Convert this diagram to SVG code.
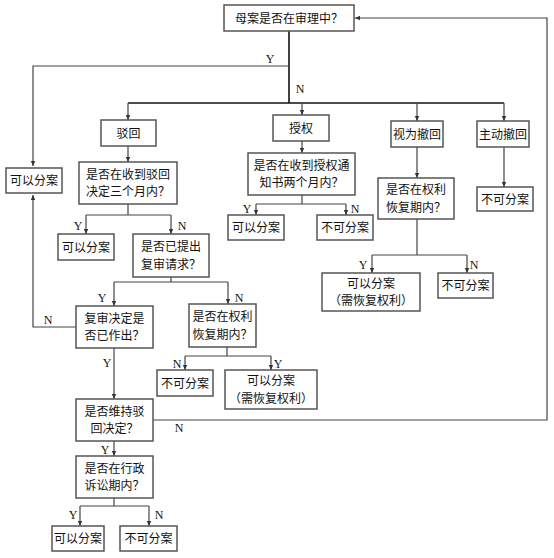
<svg xmlns="http://www.w3.org/2000/svg" width="554" height="558" viewBox="0 0 554 558">
<style>
.box{fill:#fff;stroke:#555;stroke-width:1.5}
.t{font-family:"Noto Sans CJK SC","Noto Sans",sans-serif;font-size:12px;fill:#111;text-anchor:middle}
.l{font-family:"Liberation Serif","DejaVu Serif",serif;font-size:12px;fill:#111;text-anchor:middle}
.c{fill:none;stroke:#444;stroke-width:1.2}
.m{fill:none;stroke:#111;stroke-width:1.6}
</style>
<defs>
<marker id="a" markerUnits="userSpaceOnUse" markerWidth="6" markerHeight="6" refX="5" refY="3" orient="auto">
<path d="M0,0.8 L5,3 L0,5.2 Z" fill="#333"/>
</marker>
</defs>
<rect width="554" height="558" fill="#fff"/>
<g id="connectors">
<path class="m" d="M289,31 V103"/>
<path class="c" d="M289,66 H33 V166" marker-end="url(#a)"/>
<path class="m" d="M128,103 H504"/>
<path class="c" d="M128,103 V120" marker-end="url(#a)"/>
<path class="c" d="M302,103 V115" marker-end="url(#a)"/>
<path class="c" d="M417,103 V121" marker-end="url(#a)"/>
<path class="c" d="M504,103 V121" marker-end="url(#a)"/>
<path class="c" d="M128,146 V162" marker-end="url(#a)"/>
<path class="c" d="M128,204 V215 M86,215 H171"/>
<path class="c" d="M86,215 V234" marker-end="url(#a)"/>
<path class="c" d="M171,215 V234" marker-end="url(#a)"/>
<path class="c" d="M171,277 V282 M114,282 H228"/>
<path class="c" d="M114,282 V306" marker-end="url(#a)"/>
<path class="c" d="M228,282 V304" marker-end="url(#a)"/>
<path class="c" d="M76,327 H33 V195" marker-end="url(#a)"/>
<path class="c" d="M227,347 V356 M185,356 H271"/>
<path class="c" d="M185,356 V370" marker-end="url(#a)"/>
<path class="c" d="M271,356 V370" marker-end="url(#a)"/>
<path class="c" d="M114,348 V399" marker-end="url(#a)"/>
<path class="c" d="M153,420 H547 V18 H355" marker-end="url(#a)"/>
<path class="c" d="M114,441 V456" marker-end="url(#a)"/>
<path class="c" d="M114,498 V506 M80,506 H149"/>
<path class="c" d="M80,506 V526" marker-end="url(#a)"/>
<path class="c" d="M149,506 V526" marker-end="url(#a)"/>
<path class="c" d="M302,141 V153" marker-end="url(#a)"/>
<path class="c" d="M302,195 V204 M256,204 H346"/>
<path class="c" d="M256,204 V215" marker-end="url(#a)"/>
<path class="c" d="M346,204 V215" marker-end="url(#a)"/>
<path class="c" d="M417,147 V178" marker-end="url(#a)"/>
<path class="c" d="M417,219 V255 M372,255 H467"/>
<path class="c" d="M372,255 V273" marker-end="url(#a)"/>
<path class="c" d="M467,255 V273" marker-end="url(#a)"/>
<path class="c" d="M504,147 V187" marker-end="url(#a)"/>
<g id="labels">
<text class="l" x="270" y="63">Y</text>
<text class="l" x="300" y="93">N</text>
<text class="l" x="78" y="230">Y</text>
<text class="l" x="182" y="230">N</text>
<text class="l" x="102" y="302">Y</text>
<text class="l" x="239" y="302">N</text>
<text class="l" x="48" y="324">N</text>
<text class="l" x="177" y="368">N</text>
<text class="l" x="278" y="368">Y</text>
<text class="l" x="107" y="367">Y</text>
<text class="l" x="179" y="432">N</text>
<text class="l" x="105" y="454">Y</text>
<text class="l" x="73" y="519">Y</text>
<text class="l" x="159" y="519">N</text>
<text class="l" x="247" y="213">Y</text>
<text class="l" x="355" y="213">N</text>
<text class="l" x="363" y="269">Y</text>
<text class="l" x="474" y="269">N</text>
</g>
</g>
<g id="n-top"><rect class="box" x="224" y="5" width="130" height="26"/><text class="t" x="289" y="22.5">母案是否在审理中？</text></g>
<g id="n-bohui"><rect class="box" x="101" y="120" width="55" height="26"/><text class="t" x="128.5" y="137.5">驳回</text></g>
<g id="n-shouquan"><rect class="box" x="273" y="115" width="56" height="26"/><text class="t" x="301" y="132.5">授权</text></g>
<g id="n-shiwei"><rect class="box" x="391" y="121" width="52" height="26"/><text class="t" x="417" y="138.5">视为撤回</text></g>
<g id="n-zhudong"><rect class="box" x="477" y="121" width="52" height="26"/><text class="t" x="503" y="138.5">主动撤回</text></g>
<g id="n-left-ok"><rect class="box" x="6" y="168" width="56" height="25"/><text class="t" x="34" y="185">可以分案</text></g>
<g id="n-q1"><rect class="box" x="79" y="162" width="98" height="42"/><text class="t" x="128" y="178.5">是否在收到驳回</text><text class="t" x="128" y="196">决定三个月内？</text></g>
<g id="n-q1-ok"><rect class="box" x="58" y="234" width="56" height="26"/><text class="t" x="86" y="251.5">可以分案</text></g>
<g id="n-q2"><rect class="box" x="133" y="234" width="76" height="43"/><text class="t" x="171" y="251">是否已提出</text><text class="t" x="171" y="268.5">复审请求？</text></g>
<g id="n-q3"><rect class="box" x="76" y="306" width="77" height="42"/><text class="t" x="114.5" y="322.5">复审决定是</text><text class="t" x="114.5" y="340">否已作出？</text></g>
<g id="n-q4"><rect class="box" x="189" y="304" width="67" height="43"/><text class="t" x="222.5" y="321">是否在权利</text><text class="t" x="222.5" y="338.5">恢复期内？</text></g>
<g id="n-q4-no"><rect class="box" x="157" y="370" width="56" height="26"/><text class="t" x="185" y="387.5">不可分案</text></g>
<g id="n-q4-ok"><rect class="box" x="225" y="370" width="92" height="39"/><text class="t" x="271" y="385">可以分案</text><text class="t" x="271" y="402.5">（需恢复权利）</text></g>
<g id="n-q5"><rect class="box" x="76" y="399" width="77" height="42"/><text class="t" x="114.5" y="415.5">是否维持驳</text><text class="t" x="114.5" y="433">回决定？</text></g>
<g id="n-q6"><rect class="box" x="76" y="456" width="77" height="42"/><text class="t" x="114.5" y="472.5">是否在行政</text><text class="t" x="114.5" y="490">诉讼期内？</text></g>
<g id="n-q6-ok"><rect class="box" x="52" y="526" width="52" height="25"/><text class="t" x="78" y="543">可以分案</text></g>
<g id="n-q6-no"><rect class="box" x="120" y="526" width="57" height="25"/><text class="t" x="148.5" y="543">不可分案</text></g>
<g id="n-q7"><rect class="box" x="248" y="153" width="107" height="42"/><text class="t" x="301.5" y="169.5">是否在收到授权通</text><text class="t" x="301.5" y="187">知书两个月内？</text></g>
<g id="n-q7-ok"><rect class="box" x="228" y="215" width="56" height="25"/><text class="t" x="256" y="232">可以分案</text></g>
<g id="n-q7-no"><rect class="box" x="317" y="215" width="56" height="25"/><text class="t" x="345" y="232">不可分案</text></g>
<g id="n-q8"><rect class="box" x="378" y="178" width="76" height="41"/><text class="t" x="416" y="194">是否在权利</text><text class="t" x="416" y="211.5">恢复期内？</text></g>
<g id="n-q8-ok"><rect class="box" x="322" y="273" width="98" height="38"/><text class="t" x="371" y="287.5">可以分案</text><text class="t" x="371" y="305">（需恢复权利）</text></g>
<g id="n-q8-no"><rect class="box" x="438" y="273" width="55" height="25"/><text class="t" x="465.5" y="290">不可分案</text></g>
<g id="n-zd-no"><rect class="box" x="477" y="187" width="56" height="24"/><text class="t" x="505" y="203.5">不可分案</text></g>
</svg>
